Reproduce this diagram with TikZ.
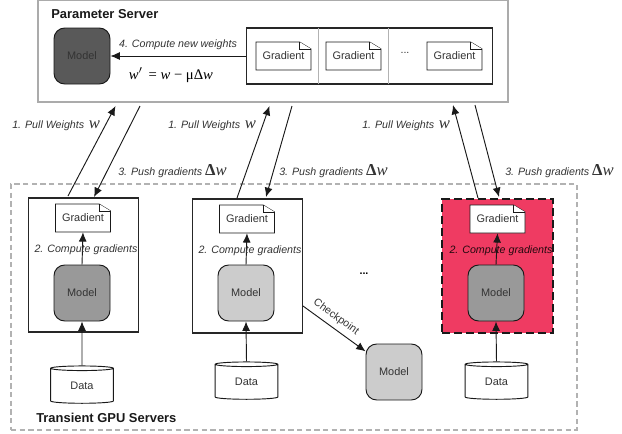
\documentclass[tikz,border=0pt]{standalone}
\usepackage{fontspec}
\setmainfont{Liberation Sans}
\newfontfamily\mathserif{Liberation Serif}
\usetikzlibrary{shapes.geometric,arrows.meta}
\definecolor{textgray}{HTML}{333333}
\definecolor{spotred}{HTML}{EF3B62}
\tikzset{
	modelnode/.style={draw=black!90,line width=0.7pt,rounded corners=8pt,minimum width=42pt,minimum height=42pt,inner sep=0pt,text=textgray,font=\fontsize{8.2}{10}\selectfont},
	docline/.style={draw=black!90,fill=white,line width=0.7pt},
	docnode/.style={minimum width=41pt,minimum height=21pt,inner sep=0pt,text=textgray,font=\fontsize{8.2}{10}\selectfont},
	workerbox/.style={draw=black!85,line width=0.8pt,minimum width=83pt,minimum height=100.5pt},
	datanode/.style={cylinder,shape border rotate=90,aspect=0.2,draw=black!90,fill=white,line width=0.7pt,minimum width=47pt,minimum height=28pt,inner sep=0pt,text=textgray,font=\fontsize{8.2}{10}\selectfont},
	flow/.style={-{Latex[length=7pt,width=6pt]},black!90,line width=0.7pt},
	steplabel/.style={inner sep=0pt,text=textgray,font=\fontsize{8}{10}\selectfont\itshape},
	titlelabel/.style={inner sep=0pt,anchor=west,text=black!90,font=\fontsize{9.7}{12}\selectfont\bfseries},
}
% gradient document with a folded corner: name, x, y
\newcommand{\gradientdoc}[3]{
	\draw[docline,shift={(#2,#3)}] (-27.5,-14) -- (16,-14) -- (27.5,-7) -- (27.5,14) -- (-27.5,14) -- cycle;
	\draw[docline,shift={(#2,#3)}] (16,-14) -- (16,-7) -- (27.5,-7);
	\node[docnode] (#1) at (#2,#3) {Gradient};
}
\newcommand{\weightw}{{\mathserif\itshape\fontsize{12.5}{12}\selectfont w}}
\newcommand{\deltaw}{{\mathserif\fontsize{12.5}{12}\selectfont\upshape\bfseries Δ\mdseries\itshape w}}
\begin{document}
\begin{tikzpicture}[x=0.75pt,y=-0.75pt]
	\useasboundingbox (0,0) rectangle (622,433);

	% Parameter server
	\node[draw=black!33,line width=1.5pt,minimum width=352pt,minimum height=76.5pt] (server) at (273,51) {};
	\node[titlelabel] (serverTitle) at (51,14) {Parameter Server};
	\node[modelnode,fill=black!65] (modelServer) at (82,56) {Model};
	\node[draw=black!85,line width=0.8pt,minimum width=185pt,minimum height=42pt] (gradRow) at (369.5,56) {};
	\draw[black!30,line width=0.7pt] (318,28) -- (318,84);
	\draw[black!30,line width=0.7pt] (388,28) -- (388,84);
	\gradientdoc{gradA}{283.5}{56}
	\gradientdoc{gradB}{353.5}{56}
	\gradientdoc{gradC}{454.5}{56}
	\node[steplabel,font=\fontsize{8}{10}\selectfont] (gradDots) at (405,53) {...};
	\draw[flow] (gradRow.west) -- (modelServer.east);
	\node[steplabel] (computeWeights) at (178,45) {4. Compute new weights};
	\node[inner sep=0pt,font=\mathserif\fontsize{11}{12}\selectfont] (updateRule) at (171,75) {\itshape w\(^\prime\) \,\upshape= \itshape w \upshape− μΔ\itshape w};

	% Transient servers
	\node[draw=black!30,line width=0.8pt,dash pattern=on 4pt off 2.5pt,minimum width=424.5pt,minimum height=184.5pt] (gpuGroup) at (294,307) {};
	\node[titlelabel] (gpuTitle) at (36,418) {Transient GPU Servers};

	% First worker
	\node[workerbox] (workerA) at (83.5,265) {};
	\gradientdoc{gradWorkerA}{83}{218}
	\node[modelnode,fill=black!40] (modelA) at (82,293) {Model};
	\node[datanode] (dataA) at (82,386) {Data};
	\draw[flow] (modelA.north) -- (gradWorkerA.south);
	\draw[flow] (dataA.north) -- (modelA.south);
	\node[steplabel] (computeA) at (86,250) {2. Compute gradients};

	% Second worker
	\node[workerbox] (workerB) at (247.5,266) {};
	\gradientdoc{gradWorkerB}{247}{219}
	\node[modelnode,fill=black!20] (modelB) at (246,293) {Model};
	\node[datanode] (dataB) at (246.5,382) {Data};
	\draw[flow] (modelB.north) -- (gradWorkerB.south);
	\draw[flow] (dataB.north) -- (modelB.south);
	\node[steplabel] (computeB) at (250,251) {2. Compute gradients};

	% Checkpoint of second worker
	\node[modelnode,fill=black!20] (modelCkpt) at (394,372) {Model};
	\coordinate (ckptStart) at (303,306);
	\draw[flow] (ckptStart) -- (modelCkpt);
	\node[steplabel,rotate=-36,font=\fontsize{8}{10}\selectfont] (ckptLabel) at (336,317) {Checkpoint};
	\node[inner sep=0pt,font=\fontsize{8}{10}\selectfont\bfseries] (workerDots) at (364,274) {...};

	% Revoked worker
	\node[workerbox,fill=spotred,draw=black!90,line width=1.2pt,dash pattern=on 6pt off 3pt] (workerC) at (497.5,266) {};
	\gradientdoc{gradWorkerC}{497.5}{219}
	\node[modelnode,fill=black!40] (modelC) at (496,293) {Model};
	\node[datanode] (dataC) at (496.5,382) {Data};
	\draw[flow] (modelC.north) -- (gradWorkerC.south);
	\draw[flow] (dataC.north) -- (modelC.south);
	\node[steplabel,text=black!85!spotred] (computeC) at (501,251) {2. Compute gradients};

	% Pull and push between servers
	\coordinate (pullAa) at (68,196);
	\coordinate (pullAb) at (115.5,106);
	\coordinate (pushAa) at (140,106);
	\coordinate (pushAb) at (94,197);
	\coordinate (pullBa) at (237,198);
	\coordinate (pullBb) at (269.5,106);
	\coordinate (pushBa) at (292,106);
	\coordinate (pushBb) at (266,197);
	\coordinate (pullCa) at (478,198);
	\coordinate (pullCb) at (453,105);
	\coordinate (pushCa) at (475,105);
	\coordinate (pushCb) at (499,197);
	\draw[flow] (pullAa) -- (pullAb);
	\draw[flow] (pushAa) -- (pushAb);
	\draw[flow] (pullBa) -- (pullBb);
	\draw[flow] (pushBa) -- (pushBb);
	\draw[flow] (pullCa) -- (pullCb);
	\draw[flow] (pushCa) -- (pushCb);

	% Step labels
	\node[steplabel,anchor=west] (pullLabelA) at (12,126) {1. Pull Weights\, \weightw};
	\node[steplabel,anchor=west] (pullLabelB) at (168,126) {1. Pull Weights\, \weightw};
	\node[steplabel,anchor=west] (pullLabelC) at (362,126) {1. Pull Weights\, \weightw};
	\node[steplabel,anchor=west] (pushLabelA) at (118,171) {3. Push gradients \deltaw};
	\node[steplabel,anchor=west] (pushLabelB) at (279,171) {3. Push gradients \deltaw};
	\node[steplabel,anchor=west] (pushLabelC) at (505,171) {3. Push gradients \deltaw};
\end{tikzpicture}
\end{document}
